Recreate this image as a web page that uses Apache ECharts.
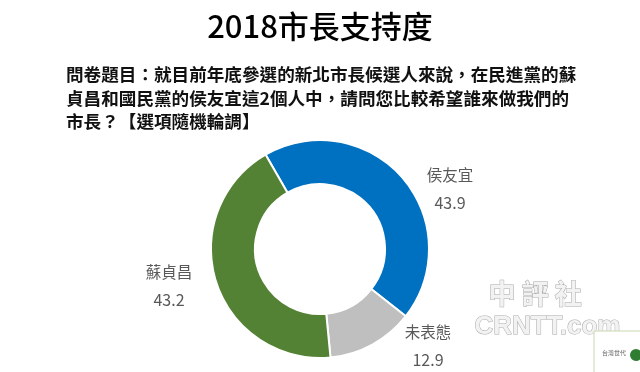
<!DOCTYPE html>
<html><head><meta charset="utf-8">
<script src="https://cdn.jsdelivr.net/npm/echarts@6/dist/echarts.min.js"></script>
<style>html,body{margin:0;padding:0;background:#fff}#c{width:640px;height:372px}</style>
</head><body><div id="c"></div>
<script>
var titleText = '2018市長支持度';
var questionText = '問卷題目：就目前年底參選的新北市長候選人來說，在民進黨的蘇\n貞昌和國民黨的侯友宜這2個人中，請問您比較希望誰來做我們的\n市長？【選項隨機輪調】';
var categories = ['侯友宜', '未表態', '蘇貞昌'];
var values = [43.9, 12.9, 43.2];
var colors = ['#0070C0', '#BFBFBF', '#548235'];
var labelPos = [[450, 161], [428, 318], [169, 258]];

var chart = echarts.init(document.getElementById('c'));
chart.setOption({
  backgroundColor: '#fff',
  animation: false,
  title: [{
    text: titleText, left: 'center', top: 6,
    textStyle: {fontFamily: 'Noto Sans CJK TC', fontSize: 31, fontWeight: 500, color: '#000'}
  }, {
    text: questionText, left: 61, top: 58,
    textStyle: {fontFamily: 'Noto Sans CJK TC', fontSize: 17.6, fontWeight: 'bold', color: '#111', lineHeight: 23.5}
  }],
  series: [{
    type: 'pie',
    center: [320, 249],
    radius: [65, 109],
    startAngle: 120,
    clockwise: true,
    itemStyle: {borderColor: '#fff', borderWidth: 2},
    label: {
      show: true,
      formatter: function (p) { return '{n|' + p.name + '}\n{v|' + p.value.toFixed(1) + '}'; },
      rich: {
        n: {fontFamily: 'Noto Sans CJK TC', fontSize: 15.5, color: '#595959', lineHeight: 28, align: 'center'},
        v: {fontFamily: 'Noto Sans CJK TC', fontSize: 16, color: '#595959', lineHeight: 28, align: 'center'}
      }
    },
    labelLine: {show: false},
    labelLayout: function (p) {
      var pos = labelPos[p.dataIndex];
      return {x: pos[0], y: pos[1], align: 'center', verticalAlign: 'top'};
    },
    data: categories.map(function (c, i) {
      return {name: c, value: values[i], itemStyle: {color: colors[i]}};
    })
  }],
  graphic: [
    {type: 'text', left: 488, top: 280, style: {text: '中 評 社', font: 'bold 27px "Noto Sans CJK TC"', fill: '#f2f2f2', stroke: '#aaa', lineWidth: 1}},
    {type: 'text', left: 474, top: 313, style: {text: 'CRNTT.com', font: 'bold 26px "Liberation Sans"', fill: '#f2f2f2', stroke: '#aaa', lineWidth: 1}},
    {type: 'rect', shape: {x: 594, y: 331, width: 48, height: 44}, style: {fill: '#fff', stroke: '#c8d8b0', lineWidth: 1}},
    {type: 'text', left: 602, top: 350, style: {text: '台灣世代', font: '6px "Noto Sans CJK TC"', fill: '#666'}},
    {type: 'circle', shape: {cx: 636, cy: 355, r: 6}, style: {fill: '#2e7d32'}}
  ]
});
</script>
</body></html>
